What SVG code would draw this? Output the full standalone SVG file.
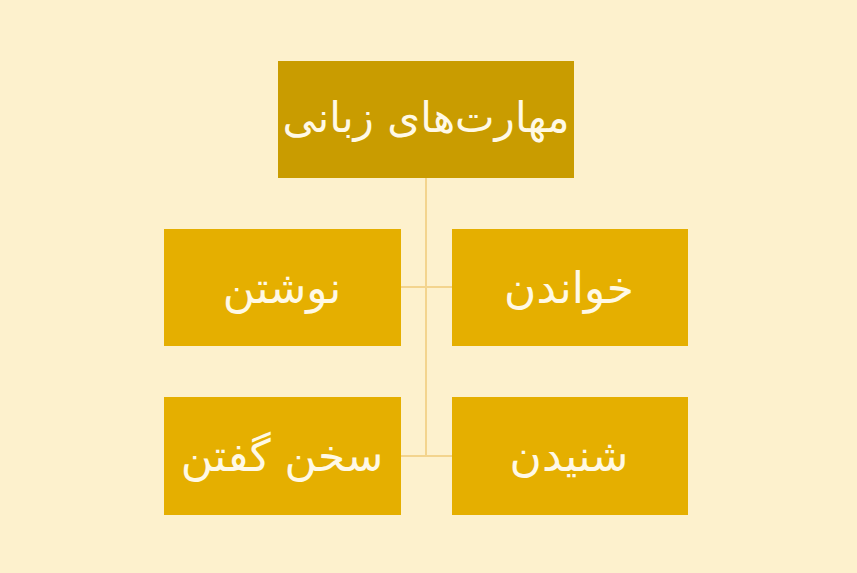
<svg xmlns="http://www.w3.org/2000/svg" width="857" height="573" viewBox="0 0 857 573">
<style>
.bg{fill:#FDF1CD}
.top{fill:#C99C00}
.child{fill:#E5AF00}
.lbl{font-family:"DejaVu Sans","Noto Sans",sans-serif;font-size:44px;fill:#FFF9E6;text-anchor:middle;direction:rtl;unicode-bidi:embed}
.ln{stroke:#F3D48E;stroke-width:2;fill:none}
</style>
<rect class="bg" x="0" y="0" width="857" height="573"/>
<g id="connectors">
<path class="ln" d="M426 178 V456"/>
<path class="ln" d="M401 287 H452"/>
<path class="ln" d="M401 456 H452"/>
</g>
<g id="root">
<rect class="top" x="278" y="61" width="296" height="117"/>
<text class="lbl" x="426" y="132" style="font-size:42px">مهارت‌های زبانی</text>
</g>
<g id="writing">
<rect class="child" x="164" y="229" width="237" height="117"/>
<text class="lbl" x="282" y="303">نوشتن</text>
</g>
<g id="reading">
<rect class="child" x="452" y="229" width="236" height="117"/>
<text class="lbl" x="569" y="303">خواندن</text>
</g>
<g id="speaking">
<rect class="child" x="164" y="397" width="237" height="118"/>
<text class="lbl" x="282" y="471">سخن گفتن</text>
</g>
<g id="listening">
<rect class="child" x="452" y="397" width="236" height="118"/>
<text class="lbl" x="569" y="471">شنیدن</text>
</g>
</svg>
